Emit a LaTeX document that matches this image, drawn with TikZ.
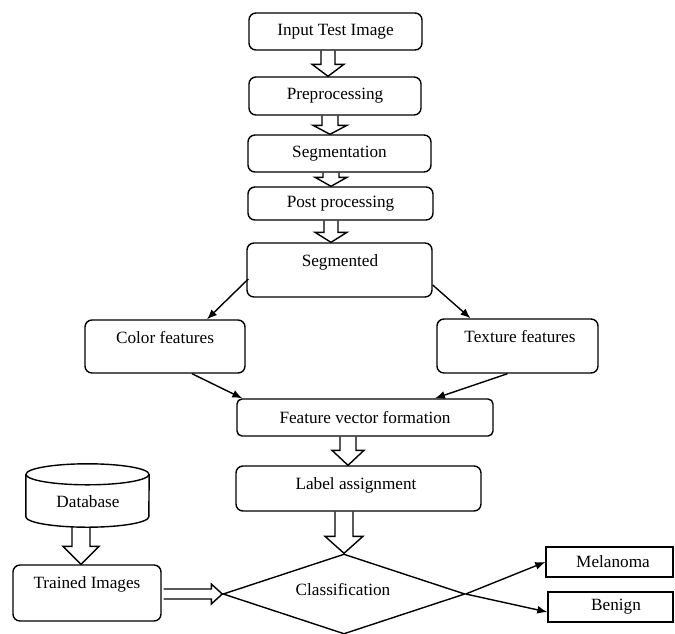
\documentclass[tikz,border=0pt]{standalone}
\usepackage{fontspec}
\setmainfont{Liberation Serif}
\usetikzlibrary{arrows.meta,shapes.geometric,calc}
\newcommand\hdown[6]{\draw[harr] let \p1=(#1), \p2=(#2) in
  (#3pt-#4pt,\y1) -- (#3pt-#4pt,\y2+#6pt) -- (#3pt-#5pt,\y2+#6pt) -- (#3pt,\y2)
  -- (#3pt+#5pt,\y2+#6pt) -- (#3pt+#4pt,\y2+#6pt) -- (#3pt+#4pt,\y1);}
\newcommand\hright[5]{\draw[harr] let \p1=(#1), \p2=(#2) in
  (\x1+2pt,\y2+#3pt) -- (\x2-#5pt,\y2+#3pt) -- (\x2-#5pt,\y2+#4pt) -- (\x2,\y2)
  -- (\x2-#5pt,\y2-#4pt) -- (\x2-#5pt,\y2-#3pt) -- (\x1+2pt,\y2-#3pt);}
\begin{document}
\begin{tikzpicture}[x=1pt,y=-1pt,
  every node/.style={font=\fontsize{17.2}{20}\selectfont},
  box/.style={draw, line width=1.4pt, rounded corners=7pt, inner sep=0pt},
  sbox/.style={draw, line width=1.4pt, inner sep=0pt},
  txt/.style={inner sep=0pt},
  conn/.style={line width=1.4pt, -{Latex[length=10pt,width=8pt]}},
  harr/.style={line width=1.4pt, line join=miter}]
\useasboundingbox (0,0) rectangle (675,633);

% main chain
\node[box, minimum width=173pt, minimum height=37pt] (input) at (335.5,31.5) {Input Test Image};
\node[box, minimum width=172pt, minimum height=38pt] (pre) at (335,96) {Preprocessing};
\node[box, minimum width=183pt, minimum height=37pt] (seg) at (339.5,153.5) {Segmentation};
\node[box, minimum width=185pt, minimum height=33pt] (post) at (340.5,203.5) {Post processing};
\node[box, minimum width=185pt, minimum height=54pt] (segd) at (339.5,270) {};
\node[txt] (segdT) at (340,262) {Segmented};

\node[box, minimum width=160pt, minimum height=53pt] (color) at (165,346.5) {};
\node[txt] (colorT) at (165,338) {Color features};
\node[box, minimum width=161pt, minimum height=54pt] (texture) at (517.5,346) {};
\node[txt] (textureT) at (520,337) {Texture features};

\node[box, rounded corners=5pt, minimum width=256pt, minimum height=37pt] (fv) at (365,417.5) {Feature vector formation};
\node[box, minimum width=245pt, minimum height=45pt] (label) at (358.5,488.5) {};
\node[txt] (labelT) at (356,485) {Label assignment};

% diamond
\node[diamond, draw, line width=1.4pt, minimum width=242pt, minimum height=80pt, inner sep=0pt] (cls) at (344,594) {};
\node[txt] (clsT) at (343,590) {Classification};

% outputs
\node[sbox, minimum width=127pt, minimum height=30pt] (mel) at (609.5,562) {};
\node[txt] (melT) at (613,562) {Melanoma};
\node[sbox, minimum width=125pt, minimum height=30pt] (ben) at (610.5,607) {};
\node[txt] (benT) at (616,607) {Benign};

% database cylinder
\node[inner sep=0pt, minimum width=123pt, minimum height=63pt] (db) at (87.5,495.5) {};
\draw[line width=1.4pt] ($(db.north west)+(0,10.5)$) -- ($(db.south west)+(0,-10.5)$)
  arc (180:360:61.5pt and 10.5pt) -- ($(db.north east)+(0,10.5)$);
\draw[line width=1.4pt] ($(db.north)+(0,10.5)$) ellipse (61.5pt and 10.5pt);
\node[txt] (dbT) at (88,502) {Database};

\node[box, minimum width=148pt, minimum height=56pt] (trained) at (87,593) {};
\node[txt] (trainedT) at (87,584) {Trained Images};

% hollow arrows
\hdown{input.south}{pre.north}{328}{7}{16}{12}
\hdown{pre.south}{seg.north}{330}{8}{17}{9}
\hdown{seg.south}{post.north}{331}{8}{16}{9}
\hdown{post.south}{segd.north}{331}{7}{16}{10}
\hdown{fv.south}{label.north}{348}{8}{16}{15}
\hdown{label.south}{cls.north}{344}{9}{19}{17}
\hdown{db.south}{trained.north}{81}{9}{18}{18}
\hright{trained.east}{cls.west}{5}{10}{11}

% thin arrows
\draw[conn] ($(segd.west)+(2,9)$) -- ($(color.north)+(42,0)$);
\draw[conn] ($(segd.east)+(0,15)$) -- ($(texture.north)+(-47,0)$);
\draw[conn] ($(color.south)+(27,0)$) -- ($(fv.north west)+(6,0)$);
\draw[conn] ($(texture.south)+(-10,0)$) -- ($(fv.north)+(70,0)$);
\draw[conn] (cls.east) -- (mel.west);
\draw[conn] (cls.east) -- ($(ben.west)+(0,5)$);
\end{tikzpicture}
\end{document}
